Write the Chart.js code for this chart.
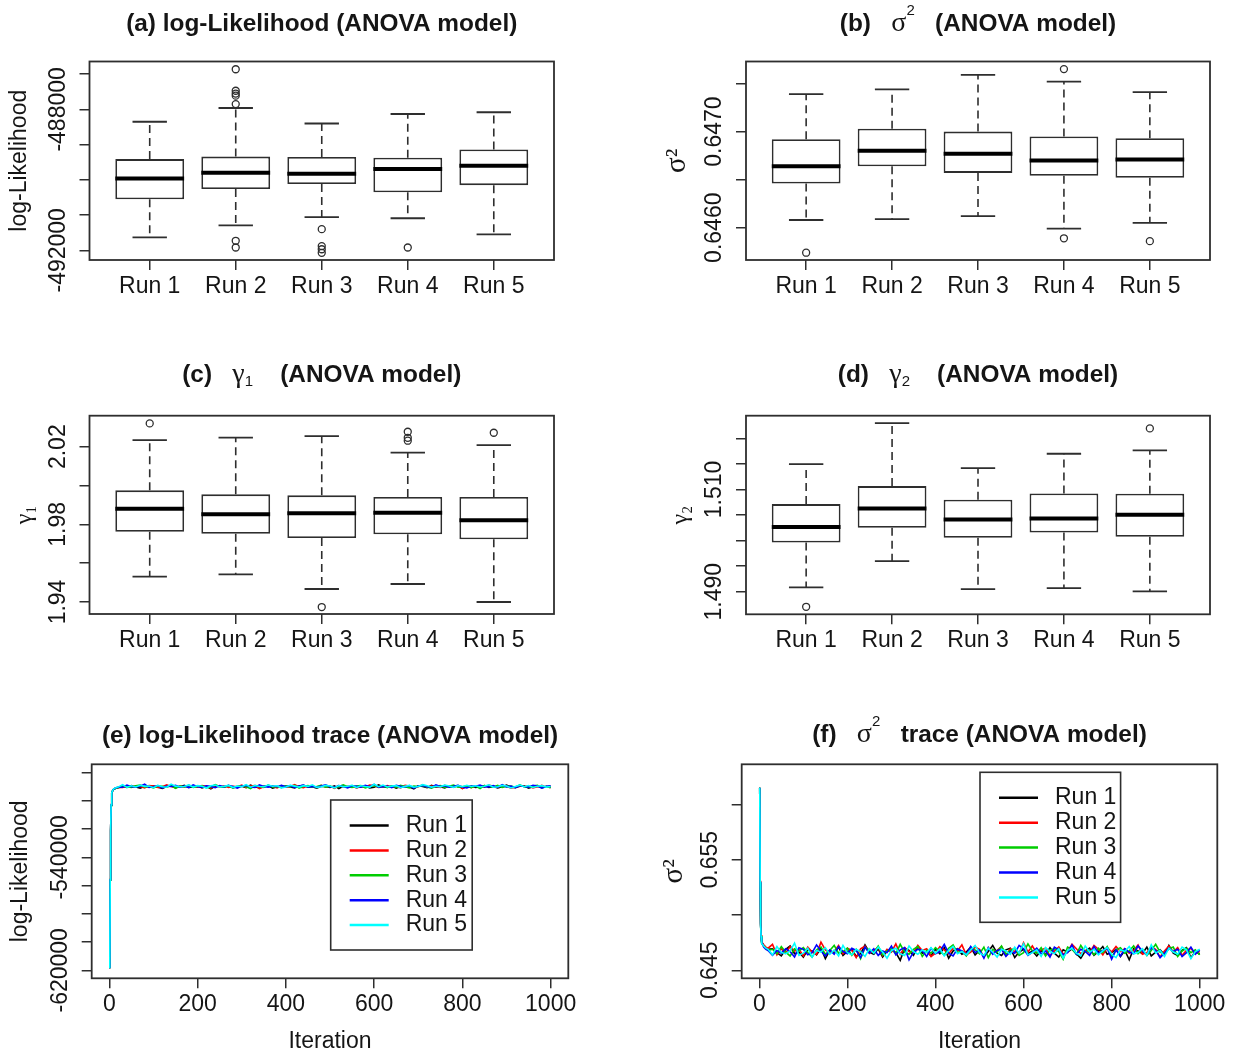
<!DOCTYPE html>
<html>
<head>
<meta charset="utf-8">
<title>ANOVA model runs</title>
<script src="https://cdn.jsdelivr.net/npm/chart.js@4.4.1/dist/chart.umd.min.js"></script>
<style>
  html, body { margin: 0; padding: 0; background: #fff; }
  body { position: relative; width: 1234px; height: 1055px; overflow: hidden; }
  canvas { position: absolute; }
</style>
</head>
<body>
<canvas id="boxLogLik" width="617" height="330" style="left:0;top:0"></canvas>
<canvas id="boxSigma" width="617" height="330" style="left:617px;top:0"></canvas>
<canvas id="boxGamma1" width="617" height="360" style="left:0;top:330px"></canvas>
<canvas id="boxGamma2" width="617" height="360" style="left:617px;top:330px"></canvas>
<canvas id="traceLogLik" width="617" height="365" style="left:0;top:690px"></canvas>
<canvas id="traceSigma" width="617" height="365" style="left:617px;top:690px"></canvas>
<script>
var runs = ["Run 1", "Run 2", "Run 3", "Run 4", "Run 5"];
var runColors = ["#000000", "#ff0000", "#00cd00", "#0000ff", "#00ffff"];

// (a) log-likelihood: whisker ends, quartiles, medians, outliers per run
var llLo  = [-491630, -491290, -491060, -491090, -491550];
var llQ1  = [-490550, -490260, -490120, -490350, -490150];
var llMed = [-489960, -489800, -489830, -489690, -489600];
var llQ3  = [-489410, -489340, -489350, -489370, -489140];
var llHi  = [-488350, -487960, -488400, -488130, -488080];
var llOut = [[], [-486860, -487470, -487550, -487610, -487850, -491730, -491920],
             [-491400, -491880, -491970, -492070], [-491920], []];
var llTicks = [-492000, -491000, -490000, -489000, -488000, -487000];
var llTickLabels = ["-492000", "-488000"];

// (b) sigma^2
var sgLo  = [0.64608, 0.64609, 0.64612, 0.64599, 0.64605];
var sgQ1  = [0.64646, 0.64664, 0.64657, 0.64654, 0.64652];
var sgMed = [0.64664, 0.64680, 0.64677, 0.64670, 0.64671];
var sgQ3  = [0.64692, 0.64703, 0.64700, 0.64695, 0.64693];
var sgHi  = [0.64739, 0.64744, 0.64759, 0.64752, 0.64741];
var sgOut = [[0.64574], [], [], [0.64765, 0.64589], [0.64586]];
var sgTicks = [0.6460, 0.6465, 0.6470, 0.6475];
var sgTickLabels = ["0.6460", "0.6470"];

// (c) gamma_1
var g1Lo  = [1.95305, 1.95425, 1.94670, 1.94927, 1.94000];
var g1Q1  = [1.97622, 1.97519, 1.97296, 1.97485, 1.97227];
var g1Med = [1.98807, 1.98515, 1.98567, 1.98601, 1.98206];
var g1Q3  = [1.99751, 1.99545, 1.99494, 1.99408, 1.99408];
var g1Hi  = [2.02343, 2.02464, 2.02549, 2.01691, 2.02086];
var g1Out = [[2.0320], [], [1.9374], [2.0277, 2.0246, 2.0231], [2.0272]];
var g1Ticks = [1.94, 1.96, 1.98, 2.00, 2.02];
var g1TickLabels = ["1.94", "1.98", "2.02"];

// (d) gamma_2
var g2Lo  = [1.49083, 1.49598, 1.49051, 1.49070, 1.49005];
var g2Q1  = [1.49963, 1.50250, 1.50055, 1.50159, 1.50074];
var g2Med = [1.50263, 1.50628, 1.50413, 1.50433, 1.50505];
var g2Q3  = [1.50713, 1.51065, 1.50798, 1.50922, 1.50915];
var g2Hi  = [1.51495, 1.52297, 1.51417, 1.51698, 1.51763];
var g2Out = [[1.48705], [], [], [], [1.52193]];
var g2Ticks = [1.490, 1.495, 1.500, 1.505, 1.510, 1.515, 1.520];
var g2TickLabels = ["1.490", "1.510"];

// traces: iterations kept for plotting
var iterations = [1, 2, 3, 4, 5, 6, 8, 10, 15, 20, 30, 40, 50, 60, 70, 80, 90, 100,
  110, 120, 130, 140, 150, 160, 170, 180, 190, 200, 210, 220, 230, 240, 250, 260, 270, 280, 290, 300,
  310, 320, 330, 340, 350, 360, 370, 380, 390, 400, 410, 420, 430, 440, 450, 460, 470, 480, 490, 500,
  510, 520, 530, 540, 550, 560, 570, 580, 590, 600, 610, 620, 630, 640, 650, 660, 670, 680, 690, 700,
  710, 720, 730, 740, 750, 760, 770, 780, 790, 800, 810, 820, 830, 840, 850, 860, 870, 880, 890, 900,
  910, 920, 930, 940, 950, 960, 970, 980, 990, 1000];
var iterTicks = [0, 200, 400, 600, 800, 1000];

// (e) log-likelihood trace per run
var llTrace1 = [-618500, -556000, -521000, -503000, -496500, -494200, -492600, -491800, -491000, -490600,
  -489700, -490500, -489200, -490200, -490900, -489600, -490000, -489400, -490300, -491100,
  -489800, -489300, -490600, -489900, -489000, -490400, -490100, -489500, -490800, -489700,
  -491400, -489400, -489800, -490300, -489100, -490700, -490000, -489600, -490500, -488800,
  -490200, -490600, -489700, -489200, -491000, -489900, -490400, -489400, -490100, -490700,
  -489500, -488900, -490300, -490000, -490900, -489600, -489800, -490500, -489300, -491200,
  -489700, -490200, -489100, -490600, -489900, -489500, -490800, -490300, -488700, -490000,
  -490400, -489400, -490900, -489800, -489600, -490100, -491500, -489300, -489700, -490600,
  -489000, -490200, -489900, -490700, -489500, -490300, -489200, -491100, -489800, -489400,
  -490400, -490000, -489100, -490500, -489700, -490800, -489900, -488800, -490200, -490600,
  -489600, -489300, -491000, -490000, -489500, -490300, -489800, -490700];
var llTrace2 = [-618500, -555500, -520500, -502500, -496200, -494000, -492400, -491600, -490800, -490400,
  -490500, -489600, -490100, -489300, -489800, -490800, -489100, -489400, -490400, -490000,
  -488600, -489700, -490600, -489500, -490300, -488900, -489800, -490200, -489200, -489600,
  -490900, -489000, -490100, -489300, -490500, -489700, -490000, -488800, -490400, -489500,
  -489100, -491300, -489900, -489400, -489600, -490700, -489200, -490200, -489800, -488500,
  -490100, -490600, -489300, -489700, -490400, -488900, -490000, -489500, -491000, -489100,
  -490300, -489600, -489400, -490700, -489800, -490100, -488700, -489300, -490500, -489900,
  -489200, -490200, -489700, -490800, -489000, -489500, -490400, -490000, -488600, -490300,
  -489400, -489800, -490500, -488900, -490100, -489600, -489200, -491200, -489500, -490600,
  -489300, -489900, -490200, -488800, -489700, -490400, -489100, -489600, -490900, -490100,
  -489200, -489800, -489400, -490700, -490000, -489000, -490300, -489500];
var llTrace3 = [-618500, -556200, -521200, -503300, -496700, -494300, -492500, -491700, -490900, -490500,
  -489200, -489900, -490500, -489300, -488700, -490100, -489800, -490700, -489400, -489600,
  -490300, -489100, -491000, -489500, -490000, -488900, -490400, -489700, -489300, -490600,
  -490100, -488500, -489800, -490200, -489200, -490700, -489600, -489400, -489900, -491300,
  -489100, -489500, -490400, -488800, -490000, -489700, -490500, -489300, -490100, -489000,
  -490900, -489600, -489200, -490200, -489800, -488900, -490300, -489500, -490600, -489700,
  -488600, -490000, -490400, -489400, -489100, -490800, -489800, -489300, -490100, -489600,
  -490500, -489500, -490300, -489000, -490000, -490700, -489400, -489800, -489200, -490100,
  -490900, -489600, -489100, -490400, -489700, -488800, -490200, -489900, -489300, -490600,
  -489500, -491200, -489200, -489600, -490100, -488900, -490500, -489800, -489400, -490300,
  -488600, -490000, -490400, -489500, -489000, -490800, -489700, -490200];
var llTrace4 = [-618500, -555800, -520800, -502800, -496400, -494100, -492400, -491500, -490700, -490300,
  -490300, -488800, -489900, -490100, -489600, -488200, -490400, -490000, -489100, -490700,
  -489500, -489800, -489000, -490200, -489400, -490500, -488600, -489900, -490300, -489300,
  -489700, -490600, -489200, -490000, -488900, -489800, -490900, -489500, -489100, -490100,
  -490400, -488700, -489700, -490200, -489400, -489900, -489000,
  -490000, -489200, -490500, -489500, -488800, -490100, -489700, -490300, -489400, -488600,
  -489900, -490400, -489100, -489800, -490700, -489300, -489600, -490200, -488900, -490000,
  -488300, -490300, -489900, -489400, -490600, -489000, -489700, -490100, -489200, -490900,
  -489500, -489100, -490000, -490500, -488700, -489800, -489300, -490300, -489600, -489000,
  -490200, -490800, -489400, -489700, -488800, -490100, -489900, -489200, -490400, -488500,
  -490000, -489500, -490600, -489100, -489800, -490200, -488900, -489400, -491000, -489700, -489300];
var llTrace5 = [-618500, -555700, -520700, -502700, -496300, -493900, -492300, -491400, -490600, -490200,
  -488500, -490400, -489300, -490100, -488900, -489700, -489400, -490600, -489000, -489900,
  -490300, -488100, -489500, -490000, -489800, -488700, -490200, -489200, -489600, -490900,
  -489300, -488800, -490100, -489700, -489000, -490500, -489400, -489900, -488400, -490300,
  -489100, -489800, -490000, -488700, -489600, -489300, -490700, -490100, -488900, -489500,
  -490200, -489200, -489700, -488600, -490400, -489900, -489000, -489400, -490800, -489100,
  -490000, -489600, -488900, -490500, -489300, -489800, -490200, -488200, -489900, -488800,
  -490100, -489500, -489200, -490600, -489700, -489000, -490300, -489800, -488500, -489300,
  -490200, -489600, -490000, -488700, -489400, -490400, -489100, -489900,
  -488900, -489800, -489300, -490100, -489600, -488600, -490300, -490000, -489000, -489400,
  -490800, -489700, -488800, -489900, -489100, -490500, -489600, -489200, -490200, -489800];
var llTraceTicks = [-620000, -600000, -580000, -560000, -540000, -520000, -500000, -480000];
var llTraceTickLabels = ["-620000", "-540000"];

// (f) sigma^2 trace per run
var sgTrace1 = [0.6615, 0.6530, 0.6492, 0.6481, 0.6477, 0.6475, 0.6474, 0.6472, 0.6470, 0.6469,
  0.64695, 0.64660, 0.64630, 0.64690, 0.64720, 0.64650, 0.64665, 0.64620, 0.64685, 0.64675,
  0.64640, 0.64700, 0.64605, 0.64680, 0.64655, 0.64710, 0.64635, 0.64670, 0.64690, 0.64625,
  0.64650, 0.64730, 0.64665, 0.64645, 0.64695, 0.64620, 0.64675, 0.64685, 0.64660, 0.64590,
  0.64700, 0.64680, 0.64635, 0.64715, 0.64655, 0.64670, 0.64630, 0.64690, 0.64650, 0.64705,
  0.64610, 0.64675, 0.64695, 0.64645, 0.64665, 0.64710, 0.64640, 0.64680, 0.64625, 0.64670,
  0.64725, 0.64655, 0.64635, 0.64685, 0.64700, 0.64615, 0.64665, 0.64690, 0.64650, 0.64675,
  0.64630, 0.64680, 0.64640, 0.64705, 0.64655, 0.64620, 0.64685, 0.64665, 0.64695, 0.64650,
  0.64610, 0.64675, 0.64700, 0.64635, 0.64670, 0.64715, 0.64645, 0.64660, 0.64690, 0.64625,
  0.64680, 0.64595, 0.64695, 0.64675, 0.64650, 0.64710, 0.64630, 0.64665, 0.64685, 0.64640,
  0.64725, 0.64655, 0.64635, 0.64680, 0.64705, 0.64615, 0.64670, 0.64645];
var sgTrace2 = [0.6615, 0.6531, 0.6493, 0.6482, 0.6478, 0.6476, 0.6474, 0.6473, 0.6471, 0.6470,
  0.64735, 0.64640, 0.64695, 0.64655, 0.64715, 0.64675, 0.64690, 0.64630, 0.64710, 0.64665,
  0.64645, 0.64755, 0.64685, 0.64660, 0.64670, 0.64725, 0.64650, 0.64700, 0.64680, 0.64615,
  0.64695, 0.64720, 0.64655, 0.64675, 0.64710, 0.64635, 0.64690, 0.64665, 0.64740, 0.64645,
  0.64705, 0.64670, 0.64660, 0.64725, 0.64680, 0.64695, 0.64625, 0.64655, 0.64715, 0.64685,
  0.64650, 0.64700, 0.64675, 0.64730, 0.64640, 0.64665, 0.64710, 0.64690, 0.64620, 0.64705,
  0.64660, 0.64680, 0.64715, 0.64635, 0.64695, 0.64670, 0.64650, 0.64750, 0.64665, 0.64720,
  0.64655, 0.64685, 0.64700, 0.64630, 0.64675, 0.64710, 0.64645, 0.64670, 0.64735, 0.64695,
  0.64650, 0.64680, 0.64660, 0.64725, 0.64690, 0.64640, 0.64705, 0.64665,
  0.64715, 0.64670, 0.64695, 0.64655, 0.64680, 0.64730, 0.64645, 0.64660, 0.64710, 0.64690,
  0.64620, 0.64675, 0.64720, 0.64665, 0.64705, 0.64635, 0.64680, 0.64700, 0.64650, 0.64670];
var sgTrace3 = [0.6615, 0.6529, 0.6491, 0.6481, 0.6476, 0.6474, 0.6473, 0.6472, 0.6470, 0.6468,
  0.64690, 0.64650, 0.64715, 0.64665, 0.64630, 0.64695, 0.64675, 0.64705, 0.64660, 0.64620,
  0.64685, 0.64710, 0.64645, 0.64680, 0.64725, 0.64655, 0.64670, 0.64700, 0.64635, 0.64690,
  0.64605, 0.64705, 0.64685, 0.64660, 0.64720, 0.64640, 0.64675, 0.64695, 0.64650, 0.64735,
  0.64665, 0.64645, 0.64690, 0.64715, 0.64625, 0.64680, 0.64655, 0.64705, 0.64670, 0.64640,
  0.64700, 0.64730, 0.64660, 0.64675, 0.64630, 0.64695, 0.64685, 0.64650, 0.64710, 0.64615,
  0.64690, 0.64665, 0.64720, 0.64645, 0.64680, 0.64700, 0.64635, 0.64660, 0.64740, 0.64675,
  0.64655, 0.64705, 0.64630, 0.64685, 0.64695, 0.64670, 0.64600, 0.64710, 0.64690, 0.64645,
  0.64725, 0.64665, 0.64680, 0.64640, 0.64700, 0.64660, 0.64715, 0.64620, 0.64685, 0.64705,
  0.64655, 0.64675, 0.64720, 0.64650, 0.64690, 0.64635, 0.64680, 0.64735, 0.64665, 0.64645,
  0.64695, 0.64710, 0.64625, 0.64675, 0.64700, 0.64660, 0.64685, 0.64640];
var sgTrace4 = [0.6615, 0.6530, 0.6492, 0.6480, 0.6476, 0.6475, 0.6473, 0.6471, 0.6469, 0.6468,
  0.64635, 0.64680, 0.64655, 0.64695, 0.64670, 0.64620, 0.64705, 0.64690, 0.64640, 0.64660,
  0.64730, 0.64675, 0.64630, 0.64685, 0.64645, 0.64715, 0.64670, 0.64650, 0.64700, 0.64680,
  0.64615, 0.64710, 0.64655, 0.64695, 0.64635, 0.64675, 0.64660, 0.64720, 0.64640, 0.64685,
  0.64705, 0.64595, 0.64665, 0.64690, 0.64680, 0.64625, 0.64700, 0.64650, 0.64670, 0.64735,
  0.64655, 0.64630, 0.64695, 0.64675, 0.64640, 0.64715, 0.64660, 0.64685, 0.64610, 0.64705,
  0.64645, 0.64680, 0.64690, 0.64625, 0.64670, 0.64655, 0.64725, 0.64695, 0.64635, 0.64665,
  0.64700, 0.64650, 0.64675, 0.64620, 0.64710, 0.64685, 0.64640, 0.64660, 0.64730, 0.64645,
  0.64690, 0.64670, 0.64635, 0.64715, 0.64655, 0.64680, 0.64700, 0.64600, 0.64685, 0.64630,
  0.64695, 0.64665, 0.64650, 0.64720, 0.64675, 0.64640, 0.64705, 0.64680, 0.64615, 0.64655,
  0.64700, 0.64670, 0.64690, 0.64625, 0.64660, 0.64710, 0.64645, 0.64685];
var sgTrace5 = [0.6615, 0.6530, 0.6491, 0.6481, 0.6477, 0.6474, 0.6473, 0.6472, 0.6470, 0.6469,
  0.64640, 0.64715, 0.64660, 0.64650, 0.64675, 0.64745, 0.64635, 0.64655, 0.64700, 0.64620,
  0.64680, 0.64665, 0.64705, 0.64645, 0.64685, 0.64630, 0.64725, 0.64660, 0.64640, 0.64690,
  0.64670, 0.64625, 0.64695, 0.64655, 0.64710, 0.64665, 0.64610, 0.64680, 0.64700, 0.64650,
  0.64635, 0.64720, 0.64670, 0.64645, 0.64685, 0.64660, 0.64705,
  0.64655, 0.64695, 0.64630, 0.64680, 0.64715, 0.64650, 0.64670, 0.64640, 0.64685, 0.64725,
  0.64660, 0.64635, 0.64700, 0.64665, 0.64620, 0.64690, 0.64675, 0.64645, 0.64710, 0.64655,
  0.64740, 0.64640, 0.64660, 0.64685, 0.64625, 0.64705, 0.64670, 0.64650, 0.64695, 0.64610,
  0.64680, 0.64700, 0.64655, 0.64630, 0.64720, 0.64665, 0.64690, 0.64640, 0.64675, 0.64705,
  0.64645, 0.64615, 0.64685, 0.64670, 0.64715, 0.64650, 0.64660, 0.64695, 0.64635, 0.64730,
  0.64655, 0.64680, 0.64625, 0.64700, 0.64665, 0.64645, 0.64710, 0.64685, 0.64605, 0.64670, 0.64690];
var sgTraceTicks = [0.645, 0.650, 0.655, 0.660];
var sgTraceTickLabels = ["0.645", "0.655"];

var sans = "'Liberation Sans', Arial, Helvetica, sans-serif";
var serif = "'Liberation Serif', 'DejaVu Serif', serif";
var ink = "#2e2e2e";
var textColor = "#151515";

Chart.defaults.font.family = sans;
Chart.defaults.font.size = 23;
Chart.defaults.color = textColor;

// box drawn around the plotting region
var framePlugin = {
  id: "frame",
  afterDraw: function (chart) {
    var a = chart.chartArea, ctx = chart.ctx;
    ctx.save();
    ctx.strokeStyle = ink;
    ctx.lineWidth = 1.8;
    ctx.strokeRect(a.left, a.top, a.right - a.left, a.bottom - a.top);
    ctx.restore();
  }
};

// panel heading made of bold text, a greek letter and small super/subscripts
function headingPlugin(parts, y) {
  var fonts = {
    bold: "bold 24.4px " + sans,
    greek: "28px " + serif,
    sup: "15px " + sans,
    sub: "15px " + sans
  };
  var shift = { bold: 0, greek: 0, sup: -13, sub: 7 };
  return {
    id: "heading",
    afterDraw: function (chart) {
      var ctx = chart.ctx, a = chart.chartArea, total = 0;
      ctx.save();
      parts.forEach(function (p) { ctx.font = fonts[p[1]]; total += ctx.measureText(p[0]).width; });
      var x = (a.left + a.right) / 2 - total / 2;
      ctx.fillStyle = textColor;
      ctx.textAlign = "left";
      ctx.textBaseline = "middle";
      parts.forEach(function (p) {
        ctx.font = fonts[p[1]];
        ctx.fillText(p[0], x, y + shift[p[1]]);
        x += ctx.measureText(p[0]).width;
      });
      ctx.restore();
    }
  };
}

// y tick labels written along the axis (rotated), only for the listed values
function yLabelsPlugin(labels) {
  return {
    id: "yLabels",
    afterDraw: function (chart) {
      var ctx = chart.ctx, s = chart.scales.y, a = chart.chartArea;
      ctx.save();
      ctx.font = "23px " + sans;
      ctx.fillStyle = textColor;
      ctx.textAlign = "center";
      ctx.textBaseline = "middle";
      labels.forEach(function (t) {
        ctx.save();
        ctx.translate(a.left - 31, s.getPixelForValue(Number(t)));
        ctx.rotate(-Math.PI / 2);
        ctx.fillText(t, 0, 0);
        ctx.restore();
      });
      ctx.restore();
    }
  };
}

// dashed whiskers with staples, plus the thick median line across each box
function whiskerPlugin(p) {
  return {
    id: "whiskers",
    afterDatasetsDraw: function (chart) {
      var ctx = chart.ctx, y = chart.scales.y;
      var bars = chart.getDatasetMeta(0).data;
      ctx.save();
      bars.forEach(function (bar, i) {
        var cx = bar.x, w = bar.width;
        ctx.strokeStyle = ink;
        ctx.lineWidth = 1.6;
        ctx.setLineDash([8, 5]);
        ctx.beginPath();
        ctx.moveTo(cx, y.getPixelForValue(p.q3[i]));
        ctx.lineTo(cx, y.getPixelForValue(p.hi[i]));
        ctx.moveTo(cx, y.getPixelForValue(p.q1[i]));
        ctx.lineTo(cx, y.getPixelForValue(p.lo[i]));
        ctx.stroke();
        ctx.setLineDash([]);
        ctx.lineWidth = 1.8;
        ctx.beginPath();
        [p.hi[i], p.lo[i]].forEach(function (v) {
          var py = y.getPixelForValue(v);
          ctx.moveTo(cx - w / 4, py);
          ctx.lineTo(cx + w / 4, py);
        });
        ctx.stroke();
        ctx.strokeStyle = "#000";
        ctx.lineWidth = 4;
        ctx.beginPath();
        var pm = y.getPixelForValue(p.med[i]);
        ctx.moveTo(cx - w / 2, pm);
        ctx.lineTo(cx + w / 2, pm);
        ctx.stroke();
      });
      ctx.restore();
    }
  };
}

// legend box placed inside the plotting region
function runLegendPlugin(box) {
  return {
    id: "runLegend",
    afterDraw: function (chart) {
      var ctx = chart.ctx, a = chart.chartArea;
      var x0 = a.left + box.x, y0 = a.top + box.y;
      ctx.save();
      ctx.fillStyle = "#fff";
      ctx.fillRect(x0, y0, box.w, box.h);
      ctx.strokeStyle = ink;
      ctx.lineWidth = 1.6;
      ctx.strokeRect(x0, y0, box.w, box.h);
      ctx.font = "23px " + sans;
      ctx.textAlign = "left";
      ctx.textBaseline = "middle";
      chart.data.datasets.forEach(function (ds, i) {
        var ly = y0 + 25.5 + i * 24.9;
        ctx.strokeStyle = ds.borderColor;
        ctx.lineWidth = 2.5;
        ctx.beginPath();
        ctx.moveTo(x0 + 19, ly);
        ctx.lineTo(x0 + 58, ly);
        ctx.stroke();
        ctx.fillStyle = textColor;
        ctx.fillText(ds.label, x0 + 75, ly);
      });
      ctx.restore();
    }
  };
}

function axisGrid() {
  return { display: true, drawOnChartArea: false, drawTicks: true, tickLength: 10,
           color: ink, lineWidth: 1.5, tickWidth: 1.5, offset: false };
}

function yTitle(text, family, size, centerX) {
  return { display: true, text: text, color: textColor,
           font: { family: family, size: size, lineHeight: 1.2 },
           padding: { top: centerX - size * 0.6, bottom: 0 } };
}

function boxPanel(id, p) {
  var cv = document.getElementById(id), f = p.frame;
  var outliers = [];
  p.out.forEach(function (list, i) {
    list.forEach(function (v) { outliers.push({ x: i + 1, y: v }); });
  });
  new Chart(cv, {
    type: "bar",
    data: {
      datasets: [{
        data: runs.map(function (r, i) { return { x: i + 1, y: [p.q1[i], p.q3[i]] }; }),
        backgroundColor: "#fff",
        borderColor: ink,
        borderWidth: 1.8,
        borderSkipped: false,
        barPercentage: 0.8,
        categoryPercentage: 1
      }, {
        type: "scatter",
        data: outliers,
        pointStyle: "circle",
        pointRadius: 3.5,
        borderColor: ink,
        borderWidth: 1.3,
        backgroundColor: "rgba(0,0,0,0)"
      }]
    },
    options: {
      responsive: false,
      animation: false,
      layout: { padding: { left: 0, top: f.t, right: cv.width - f.r, bottom: 0 } },
      plugins: { legend: { display: false }, tooltip: { enabled: false } },
      scales: {
        x: {
          type: "linear", min: 0.3, max: 5.7, offset: false,
          grid: axisGrid(), border: { display: false },
          ticks: { autoSkip: false, minRotation: 0, maxRotation: 0, padding: 3, color: textColor,
                   font: { size: 23 },
                   callback: function (v) { return runs[Math.round(v) - 1]; } },
          afterBuildTicks: function (s) { s.ticks = runs.map(function (r, i) { return { value: i + 1 }; }); },
          afterFit: function (s) { s.height = cv.height - f.b; }
        },
        y: {
          min: p.min, max: p.max, beginAtZero: false,
          grid: axisGrid(), border: { display: false },
          ticks: { display: false },
          title: yTitle(p.yTitle, p.yFamily, p.ySize, p.yTitleX),
          afterBuildTicks: function (s) { s.ticks = p.ticks.map(function (v) { return { value: v }; }); },
          afterFit: function (s) { s.width = f.l; }
        }
      }
    },
    plugins: [headingPlugin(p.heading, p.headingY), whiskerPlugin(p), yLabelsPlugin(p.tickLabels), framePlugin]
  });
}

function tracePanel(id, p) {
  var cv = document.getElementById(id), f = p.frame;
  new Chart(cv, {
    type: "line",
    data: {
      datasets: p.series.map(function (vals, i) {
        return {
          label: runs[i],
          data: iterations.map(function (it, k) { return { x: it, y: vals[k] }; }),
          borderColor: runColors[i],
          borderWidth: 1.6,
          pointRadius: 0,
          tension: 0,
          fill: false,
          order: runs.length - i
        };
      })
    },
    options: {
      responsive: false,
      animation: false,
      layout: { padding: { left: 0, top: f.t, right: cv.width - f.r, bottom: 0 } },
      plugins: { legend: { display: false }, tooltip: { enabled: false } },
      scales: {
        x: {
          type: "linear", min: -39.96, max: 1039.96,
          grid: axisGrid(), border: { display: false },
          ticks: { autoSkip: false, minRotation: 0, maxRotation: 0, padding: 3, color: textColor,
                   font: { size: 23 },
                   callback: function (v) { return String(v); } },
          title: { display: true, text: "Iteration", color: textColor,
                   font: { size: 23, lineHeight: 1.2 }, padding: { top: 0, bottom: 0 } },
          afterBuildTicks: function (s) { s.ticks = iterTicks.map(function (v) { return { value: v }; }); },
          afterFit: function (s) { s.height = cv.height - f.b; }
        },
        y: {
          min: p.min, max: p.max,
          grid: axisGrid(), border: { display: false },
          ticks: { display: false },
          title: yTitle(p.yTitle, p.yFamily, p.ySize, p.yTitleX),
          afterBuildTicks: function (s) { s.ticks = p.ticks.map(function (v) { return { value: v }; }); },
          afterFit: function (s) { s.width = f.l; }
        }
      }
    },
    plugins: [headingPlugin(p.heading, p.headingY), yLabelsPlugin(p.tickLabels),
              runLegendPlugin(p.legend), framePlugin]
  });
}

boxPanel("boxLogLik", {
  lo: llLo, q1: llQ1, med: llMed, q3: llQ3, hi: llHi, out: llOut,
  min: -492275, max: -486640, ticks: llTicks, tickLabels: llTickLabels,
  yTitle: "log-Likelihood", yFamily: sans, ySize: 23, yTitleX: 20,
  frame: { l: 89.5, t: 61.5, r: 554, b: 260 },
  heading: [["(a) log-Likelihood (ANOVA model)", "bold"]], headingY: 24
});

boxPanel("boxSigma", {
  lo: sgLo, q1: sgQ1, med: sgMed, q3: sgQ3, hi: sgHi, out: sgOut,
  min: 0.645664, max: 0.647729, ticks: sgTicks, tickLabels: sgTickLabels,
  yTitle: "σ²", yFamily: serif, ySize: 29, yTitleX: 60,
  frame: { l: 129, t: 61.5, r: 593, b: 260 },
  heading: [["(b)   ", "bold"], ["σ", "greek"], ["2", "sup"], ["   (ANOVA model)", "bold"]], headingY: 24
});

boxPanel("boxGamma1", {
  lo: g1Lo, q1: g1Q1, med: g1Med, q3: g1Q3, hi: g1Hi, out: g1Out,
  min: 1.93381, max: 2.03598, ticks: g1Ticks, tickLabels: g1TickLabels,
  yTitle: "γ₁", yFamily: serif, ySize: 24, yTitleX: 25,
  frame: { l: 89.5, t: 85.7, r: 554, b: 284 },
  heading: [["(c)   ", "bold"], ["γ", "greek"], ["1", "sub"], ["    (ANOVA model)", "bold"]], headingY: 45
});

boxPanel("boxGamma2", {
  lo: g2Lo, q1: g2Q1, med: g2Med, q3: g2Q3, hi: g2Hi, out: g2Out,
  min: 1.48558, max: 1.52442, ticks: g2Ticks, tickLabels: g2TickLabels,
  yTitle: "γ₂", yFamily: serif, ySize: 24, yTitleX: 64,
  frame: { l: 129, t: 85.7, r: 593, b: 284.3 },
  heading: [["(d)   ", "bold"], ["γ", "greek"], ["2", "sub"], ["    (ANOVA model)", "bold"]], headingY: 45
});

tracePanel("traceLogLik", {
  series: [llTrace1, llTrace2, llTrace3, llTrace4, llTrace5],
  min: -625670, max: -474050, ticks: llTraceTicks, tickLabels: llTraceTickLabels,
  yTitle: "log-Likelihood", yFamily: sans, ySize: 23, yTitleX: 21,
  frame: { l: 91.7, t: 74.3, r: 568.3, b: 288.3 },
  legend: { x: 239, y: 35.7, w: 141.5, h: 150 },
  heading: [["(e) log-Likelihood trace (ANOVA model)", "bold"]], headingY: 46.5
});

tracePanel("traceSigma", {
  series: [sgTrace1, sgTrace2, sgTrace3, sgTrace4, sgTrace5],
  min: 0.64428, max: 0.66362, ticks: sgTraceTicks, tickLabels: sgTraceTickLabels,
  yTitle: "σ²", yFamily: serif, ySize: 29, yTitleX: 57,
  frame: { l: 124.7, t: 74.3, r: 600.3, b: 288.3 },
  legend: { x: 238.3, y: 8, w: 140.6, h: 150 },
  heading: [["(f)   ", "bold"], ["σ", "greek"], ["2", "sup"], ["   trace (ANOVA model)", "bold"]], headingY: 45
});
</script>
</body>
</html>
